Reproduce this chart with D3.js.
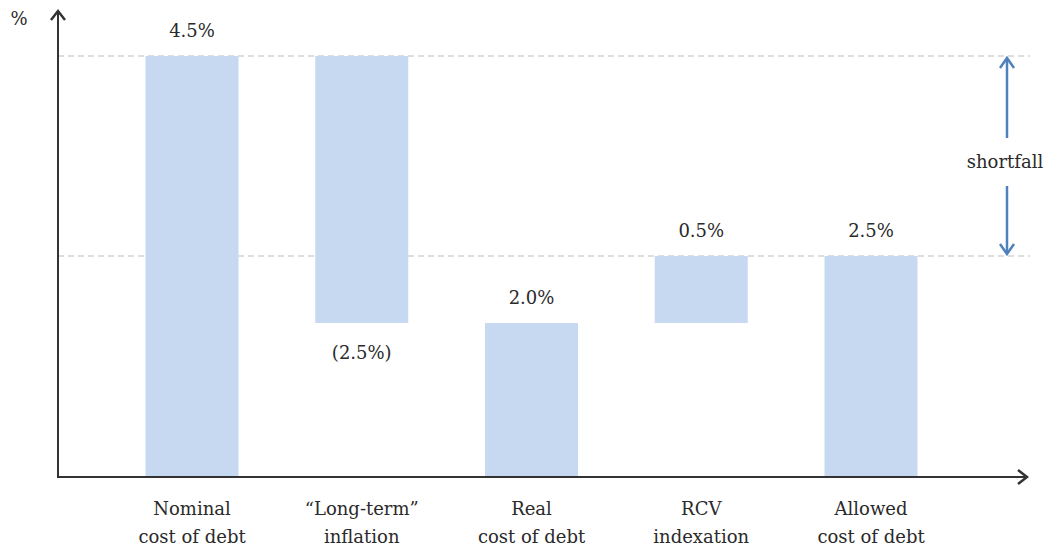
<!DOCTYPE html>
<html lang="en">
<head>
  <meta charset="UTF-8" />
  <title>Cost of debt waterfall</title>
  <script src="https://d3js.org/d3.v7.min.js"></script>
  <style>
    html, body {
      margin: 0;
      padding: 0;
      background: #fff;
    }
    svg text {
      font-family: "DejaVu Serif", "Liberation Serif", serif;
      fill: #2a2a2a;
    }
  </style>
</head>
<body>
  <svg id="chart" width="1051" height="551"></svg>

  <script>
    // categories (two-line labels)
    const categories = [
      ["Nominal", "cost of debt"],
      ["\u201cLong-term\u201d", "inflation"],
      ["Real", "cost of debt"],
      ["RCV", "indexation"],
      ["Allowed", "cost of debt"]
    ];
    // floating bars: start and end value (%)
    const barStart = [0, 2.0, 0, 2.0, 0];
    const barEnd = [4.5, 4.5, 2.0, 2.5, 2.5];
    const valueLabels = ["4.5%", "(2.5%)", "2.0%", "0.5%", "2.5%"];
    // label sits above the bar, or below it for the negative step
    const labelBelow = [false, true, false, false, false];
    // reference levels (dashed lines) and the gap between them
    const refLevels = [4.5, 2.5];
    const shortfallLabel = "shortfall";

    const svg = d3.select("#chart");
    const x0 = 58, xBase = 477;
    const fs = 18;

    // the original is drawn schematically, not to scale
    const y = d3.scaleLinear()
      .domain([0, 2.0, 2.5, 4.5])
      .range([xBase, 323, 256, 56]);

    const x = d3.scalePoint()
      .domain(d3.range(categories.length))
      .range([192, 871]);
    const barW = 93;

    // dashed reference lines
    svg.append("g")
      .selectAll("line")
      .data(refLevels)
      .join("line")
      .attr("x1", x0)
      .attr("x2", 1030)
      .attr("y1", d => y(d))
      .attr("y2", d => y(d))
      .attr("stroke", "#bdbdbd")
      .attr("stroke-width", 1.2)
      .attr("stroke-dasharray", "6,4");

    // bars
    svg.append("g")
      .selectAll("rect")
      .data(categories.map((c, i) => i))
      .join("rect")
      .attr("x", i => x(i) - barW / 2)
      .attr("width", barW)
      .attr("y", i => y(barEnd[i]))
      .attr("height", i => y(barStart[i]) - y(barEnd[i]))
      .attr("fill", "#c6d9f1");

    // value labels
    svg.append("g")
      .selectAll("text")
      .data(valueLabels)
      .join("text")
      .attr("x", (d, i) => x(i))
      .attr("y", (d, i) => labelBelow[i] ? y(barStart[i]) + 36 : y(barEnd[i]) - 19)
      .attr("text-anchor", "middle")
      .attr("font-size", fs)
      .text(d => d);

    // category labels
    const cat = svg.append("g")
      .selectAll("text")
      .data(categories)
      .join("text")
      .attr("text-anchor", "middle")
      .attr("font-size", fs)
      .attr("transform", (d, i) => `translate(${x(i)},${xBase + 38})`);
    cat.selectAll("tspan")
      .data(d => d)
      .join("tspan")
      .attr("x", 0)
      .attr("dy", (d, j) => j === 0 ? 0 : 28)
      .text(d => d);

    // axes with arrow heads
    const axisColor = "#333";
    const axes = svg.append("g")
      .attr("stroke", axisColor)
      .attr("stroke-width", 2)
      .attr("fill", "none");
    axes.append("line")
      .attr("x1", x0).attr("y1", xBase + 1)
      .attr("x2", x0).attr("y2", 12);
    axes.append("path")
      .attr("d", `M${x0 - 7},${20} L${x0},${11} L${x0 + 7},${20}`)
      .attr("stroke-width", 2.5);
    axes.append("line")
      .attr("x1", x0 - 1).attr("y1", xBase)
      .attr("x2", 1026).attr("y2", xBase);
    axes.append("path")
      .attr("d", `M${1018},${xBase - 7} L${1027},${xBase} L${1018},${xBase + 7}`)
      .attr("stroke-width", 2.5);

    svg.append("text")
      .attr("x", 19)
      .attr("y", 25)
      .attr("text-anchor", "middle")
      .attr("font-size", fs)
      .text("%");

    // shortfall double arrow
    const arrowX = 1007;
    const blue = "#4f81bd";
    const sf = svg.append("g")
      .attr("stroke", blue)
      .attr("stroke-width", 2.5)
      .attr("fill", "none");
    const yTop = y(refLevels[0]), yBot = y(refLevels[1]);
    sf.append("line")
      .attr("x1", arrowX).attr("x2", arrowX)
      .attr("y1", yTop + 2).attr("y2", 138);
    sf.append("path")
      .attr("d", `M${arrowX - 7},${yTop + 12} L${arrowX},${yTop + 2} L${arrowX + 7},${yTop + 12}`);
    sf.append("line")
      .attr("x1", arrowX).attr("x2", arrowX)
      .attr("y1", 186).attr("y2", yBot - 2);
    sf.append("path")
      .attr("d", `M${arrowX - 7},${yBot - 12} L${arrowX},${yBot - 2} L${arrowX + 7},${yBot - 12}`);

    svg.append("text")
      .attr("x", 1005)
      .attr("y", 168)
      .attr("text-anchor", "middle")
      .attr("font-size", fs)
      .text(shortfallLabel);
  </script>
</body>
</html>
